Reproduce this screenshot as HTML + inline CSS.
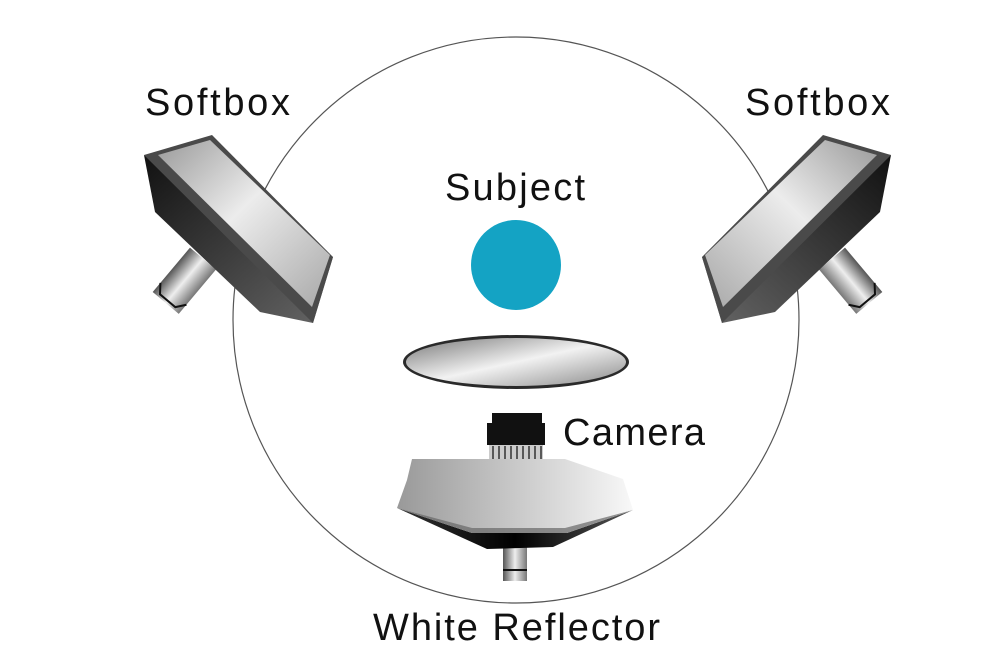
<!DOCTYPE html>
<html><head><meta charset="utf-8"><style>
html,body{margin:0;padding:0;background:#fff;}
svg{display:block;}
text{font-family:"Liberation Sans",sans-serif;font-size:38px;fill:#111;}
</style></head><body>
<svg width="1000" height="665" viewBox="0 0 1000 665">
<defs>
<linearGradient id="face" x1="0" y1="0" x2="1" y2="1">
<stop offset="0" stop-color="#9a9a9a"/><stop offset="0.45" stop-color="#ececec"/><stop offset="1" stop-color="#a8a8a8"/></linearGradient>
<linearGradient id="side" x1="0" y1="0" x2="1" y2="1">
<stop offset="0" stop-color="#111"/><stop offset="1" stop-color="#666"/></linearGradient>
<linearGradient id="cyl" x1="0" y1="0" x2="1" y2="0">
<stop offset="0" stop-color="#555"/><stop offset="0.5" stop-color="#eee"/><stop offset="1" stop-color="#777"/></linearGradient>
<linearGradient id="disk" x1="0" y1="0" x2="1" y2="1">
<stop offset="0" stop-color="#777"/><stop offset="0.5" stop-color="#f2f2f2"/><stop offset="1" stop-color="#888"/></linearGradient>
<linearGradient id="refl" x1="0" y1="0" x2="1" y2="0">
<stop offset="0" stop-color="#999"/><stop offset="1" stop-color="#f8f8f8"/></linearGradient>
<linearGradient id="reflb" x1="0" y1="0" x2="1" y2="0">
<stop offset="0" stop-color="#333"/><stop offset="0.5" stop-color="#000"/><stop offset="1" stop-color="#555"/></linearGradient>
<g id="sb">
<g transform="rotate(40 185 280)"><rect x="168" y="252" width="34" height="58" fill="url(#cyl)"/><path d="M168 298 l7 9 h20 l7 -9" fill="none" stroke="#111" stroke-width="2"/></g>
<polygon points="144,155 155,212 260,312 313,323 333,257" fill="url(#side)"/>
<polygon points="144,155 212,135 333,257 313,323" fill="#4a4a4a"/>
<polygon points="158,155 210,140 330,255 312,307" fill="url(#face)"/>
</g>
</defs>
<circle cx="516" cy="320" r="283" fill="none" stroke="#555" stroke-width="1.2"/>
<use href="#sb"/>
<use href="#sb" transform="translate(1035 0) scale(-1 1)"/>
<circle cx="516" cy="265" r="45" fill="#14a3c4"/>
<ellipse cx="516" cy="362" rx="113" ry="27" fill="#2a2a2a"/>
<ellipse cx="516" cy="362" rx="110" ry="24" fill="url(#disk)"/>
<rect x="492" y="413" width="50" height="10" fill="#111"/>
<rect x="487" y="423" width="58" height="22" fill="#111"/>
<rect x="489" y="445" width="54" height="14" fill="#ccc"/>
<g stroke="#333" stroke-width="1.5"><line x1="493" y1="446" x2="493" y2="459"/><line x1="499" y1="446" x2="499" y2="459"/><line x1="505" y1="446" x2="505" y2="459"/><line x1="511" y1="446" x2="511" y2="459"/><line x1="517" y1="446" x2="517" y2="459"/><line x1="523" y1="446" x2="523" y2="459"/><line x1="529" y1="446" x2="529" y2="459"/><line x1="535" y1="446" x2="535" y2="459"/><line x1="541" y1="446" x2="541" y2="459"/></g>
<rect x="503" y="545" width="24" height="36" fill="url(#cyl)"/>
<path d="M503 570 h24" stroke="#111" stroke-width="2"/>
<polygon points="397,508 472,533 567,533 633,510 553,547 487,549" fill="url(#reflb)"/>
<polygon points="412,459 565,459 623,479 633,510 567,533 472,533 397,508 407,480" fill="url(#refl)"/>
<polygon points="397,508 472,533 567,533 633,510 565,528 472,528" fill="#666" opacity="0.7"/>
<text x="145" y="115" textLength="145">Softbox</text>
<text x="745" y="115" textLength="145">Softbox</text>
<text x="445" y="200" textLength="140">Subject</text>
<text x="563" y="445" textLength="142">Camera</text>
<text x="373" y="640" textLength="287">White Reflector</text>
</svg>
</body></html>
